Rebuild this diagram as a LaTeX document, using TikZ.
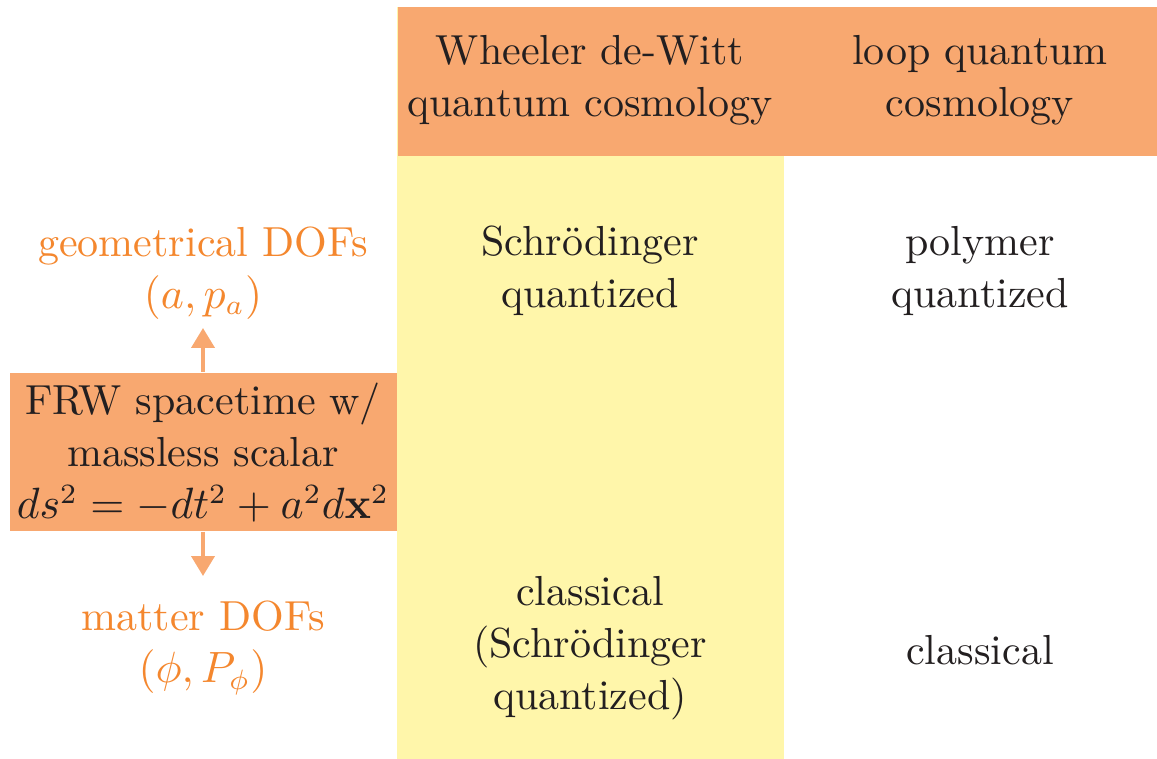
\documentclass[tikz,border=0pt]{standalone}
\usepackage{amsmath}
\usetikzlibrary{arrows.meta}
\definecolor{boxor}{RGB}{248,168,112}
\definecolor{colyel}{RGB}{255,246,170}
\definecolor{txtor}{RGB}{244,135,46}
\definecolor{txtdk}{RGB}{35,31,32}
\tikzset{
  lbl/.style={align=center, inner sep=0pt, text=txtdk},
  olbl/.style={align=center, inner sep=0pt, text=txtor},
  conn/.style={draw=boxor, line width=1pt, -{Triangle[length=5pt,width=5.75pt]}},
}
\begin{document}
\begin{tikzpicture}[x=0.25pt,y=-0.25pt, font=\fontsize{10.5}{13}\selectfont]
\useasboundingbox (0,0) rectangle (1157,759);
% yellow column
\node[fill=colyel, inner sep=0pt, minimum width=96.75pt, minimum height=188.25pt, anchor=north west] (col) at (396,6) {};
% orange header
\node[fill=boxor, inner sep=0pt, minimum width=190pt, minimum height=37.25pt, anchor=north west] (head) at (397,6) {};
% FRW box
\node[fill=boxor, inner sep=0pt, minimum width=96.75pt, minimum height=39.5pt, anchor=north west] (frwbox) at (9,372) {};
\node[lbl] (frw) at (203,453) {FRW spacetime w/\\massless scalar\\$ds^2=-dt^2+a^2d\mathbf{x}^2$};
% header texts
\node[lbl] (wdw) at (590,80) {Wheeler de-Witt\\quantum cosmology};
\node[lbl] (lqc) at (980,80) {loop quantum\\cosmology};
% body texts
\node[lbl] (sq) at (590,271) {Schr\"odinger\\quantized};
\node[lbl] (pq) at (980,271) {polymer\\quantized};
\node[lbl] (cl1) at (590,648) {classical\\(Schr\"odinger\\quantized)};
\node[lbl] (cl2) at (980,650) {classical};
% left labels
\node[olbl] (geo) at (203,273) {geometrical DOFs\\$(a,p_a)$};
\node[olbl] (mat) at (203,648) {matter DOFs\\$(\phi,P_\phi)$};
% arrows
\coordinate (tipup) at (203,328);
\coordinate (tipdn) at (203,576);
\draw[conn] (frwbox.north -| tipup) -- (tipup);
\draw[conn] (frwbox.south -| tipdn) -- (tipdn);
\end{tikzpicture}
\end{document}
